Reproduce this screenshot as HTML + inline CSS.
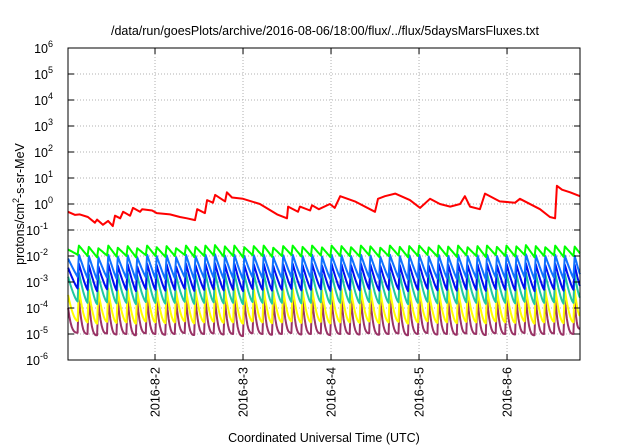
<!DOCTYPE html>
<html><head><meta charset="utf-8">
<style>
html,body{margin:0;padding:0;background:#fff;}
svg{display:block;font-family:"Liberation Sans",sans-serif;}
</style></head>
<body>
<svg id="chart" width="640" height="448" viewBox="0 0 640 448" xmlns="http://www.w3.org/2000/svg">
<text x="325" y="35" font-size="12.5" text-anchor="middle" fill="#000">/data/run/goesPlots/archive/2016-08-06/18:00/flux/../flux/5daysMarsFluxes.txt</text>
<text x="324" y="442" font-size="12.5" text-anchor="middle" fill="#000">Coordinated Universal Time (UTC)</text>
<text transform="translate(24,204) rotate(-90)" font-size="12.5" text-anchor="middle" fill="#000">protons/cm<tspan font-size="9" dy="-5">2</tspan><tspan dy="5">-s-sr-MeV</tspan></text>
<g id="grid"></g>
<g id="series"></g>
<g id="axes"></g>
</svg>
<script>
// ---- data ----
const dayLabels = ["2016-8-2","2016-8-3","2016-8-4","2016-8-5","2016-8-6"];
const dayHours = [24,48,72,96,120];
const yExponents = [-6,-5,-4,-3,-2,-1,0,1,2,3,4,5,6];
const redTimes = [0.27,2.2,3.5,5.7,7.6,8.2,9.8,11.2,12.5,13.1,14.5,15.3,17.2,18.0,19.9,20.5,23.2,24.5,28.1,30.8,32.7,34.9,35.5,37.6,38.2,39.8,40.4,43.1,43.6,45.0,48,52.6,57.3,60,60.3,63,63.5,66.3,66.8,68.7,71.7,73,74.5,78.5,84,84.8,86.7,89.5,93.5,96.3,99,101.7,104.5,107.2,108.5,109.9,112.6,114,118,122.2,123.5,129,131.7,133.1,133.6,135,137.2,139.9];
const redLog = [-0.3,-0.42,-0.4,-0.5,-0.72,-0.6,-0.8,-0.65,-0.85,-0.45,-0.55,-0.3,-0.45,-0.15,-0.3,-0.2,-0.25,-0.35,-0.4,-0.5,-0.55,-0.62,-0.2,-0.35,0.15,0.05,0.35,0.1,0.45,0.25,0.2,0.0,-0.4,-0.55,-0.1,-0.3,-0.1,-0.25,-0.05,-0.2,0.0,-0.15,0.3,0.1,-0.3,0.2,0.3,0.4,0.15,-0.15,0.2,0.0,-0.1,0.0,0.3,-0.1,-0.2,0.4,0.1,0.05,0.2,-0.2,-0.5,-0.55,0.7,0.55,0.45,0.3];
const toothTimes = [0.3,2.9,5.6,8.2,10.9,13.5,16.2,18.8,21.5,24.1,26.8,29.4,32.1,34.7,37.4,40.0,42.7,45.3,48.0,50.6,53.3,55.9,58.6,61.2,63.9,66.5,69.2,71.8,74.5,77.1,79.8,82.4,85.1,87.7,90.4,93.0,95.7,98.3,101.0,103.6,106.3,108.9,111.6,114.2,116.9,119.5,122.2,124.8,127.5,130.1,132.8,135.4,138.1];
const greenPeak = [-1.75,-1.6,-1.65,-1.7,-1.6,-1.68,-1.62,-1.7,-1.6,-1.66,-1.62,-1.7,-1.6,-1.65,-1.6,-1.58,-1.63,-1.6,-1.66,-1.62,-1.6,-1.68,-1.62,-1.6,-1.65,-1.6,-1.67,-1.6,-1.62,-1.66,-1.6,-1.63,-1.68,-1.6,-1.65,-1.62,-1.6,-1.67,-1.6,-1.64,-1.6,-1.66,-1.62,-1.6,-1.65,-1.6,-1.63,-1.58,-1.62,-1.66,-1.6,-1.63,-1.64];
const greenTrough = [-1.95,-2.0,-2.05,-1.98,-2.02,-2.0,-2.05,-1.97,-2.0,-2.03,-2.0,-1.96,-2.04,-2.0,-1.98,-2.02,-2.0,-2.05,-1.97,-2.0,-2.03,-2.0,-1.96,-2.02,-2.0,-1.98,-2.04,-2.0,-2.0,-2.02,-1.97,-2.03,-2.0,-1.98,-2.05,-2.0,-1.96,-2.02,-2.0,-2.03,-1.98,-2.0,-2.04,-1.97,-2.0,-2.02,-1.96,-2.05,-2.0,-1.98,-2.03,-2.0,-1.9];
const lblueP = [-2.1,-1.95,-2.0,-2.05,-1.95,-2.02,-1.97,-2.05,-1.95,-2.0,-1.97,-2.05,-1.95,-2.0,-1.95,-1.93,-1.98,-1.95,-2.0,-1.97,-1.95,-2.03,-1.97,-1.95,-2.0,-1.95,-2.02,-1.95,-1.97,-2.0,-1.95,-1.98,-2.03,-1.95,-2.0,-1.97,-1.95,-2.02,-1.95,-1.99,-1.95,-2.0,-1.97,-1.95,-2.0,-1.95,-1.98,-1.93,-1.97,-2.0,-1.95,-1.98,-1.99];
const lblueT = [-2.8,-2.85,-2.9,-2.83,-2.87,-2.85,-2.9,-2.82,-2.85,-2.88,-2.85,-2.81,-2.89,-2.85,-2.83,-2.87,-2.85,-2.9,-2.82,-2.85,-2.88,-2.85,-2.81,-2.87,-2.85,-2.83,-2.89,-2.85,-2.85,-2.87,-2.82,-2.88,-2.85,-2.83,-2.9,-2.85,-2.81,-2.87,-2.85,-2.88,-2.83,-2.85,-2.89,-2.82,-2.85,-2.87,-2.81,-2.9,-2.85,-2.83,-2.88,-2.85,-2.7];
const dblueP = [-2.45,-2.3,-2.35,-2.4,-2.3,-2.37,-2.32,-2.4,-2.3,-2.35,-2.32,-2.4,-2.3,-2.35,-2.3,-2.28,-2.33,-2.3,-2.35,-2.32,-2.3,-2.38,-2.32,-2.3,-2.35,-2.3,-2.37,-2.3,-2.32,-2.35,-2.3,-2.33,-2.38,-2.3,-2.35,-2.32,-2.3,-2.37,-2.3,-2.34,-2.3,-2.35,-2.32,-2.3,-2.35,-2.3,-2.33,-2.28,-2.32,-2.35,-2.3,-2.33,-2.34];
const dblueT = [-3.25,-3.3,-3.35,-3.28,-3.32,-3.3,-3.35,-3.27,-3.3,-3.33,-3.3,-3.26,-3.34,-3.3,-3.28,-3.32,-3.3,-3.35,-3.27,-3.3,-3.33,-3.3,-3.26,-3.32,-3.3,-3.28,-3.34,-3.3,-3.3,-3.32,-3.27,-3.33,-3.3,-3.28,-3.35,-3.3,-3.26,-3.32,-3.3,-3.33,-3.28,-3.3,-3.34,-3.27,-3.3,-3.32,-3.26,-3.35,-3.3,-3.28,-3.33,-3.3,-3.15];
const tealP = [-2.8,-2.65,-2.7,-2.75,-2.65,-2.72,-2.67,-2.75,-2.65,-2.7,-2.67,-2.75,-2.65,-2.7,-2.65,-2.63,-2.68,-2.65,-2.7,-2.67,-2.65,-2.73,-2.67,-2.65,-2.7,-2.65,-2.72,-2.65,-2.67,-2.7,-2.65,-2.68,-2.73,-2.65,-2.7,-2.67,-2.65,-2.72,-2.65,-2.69,-2.65,-2.7,-2.67,-2.65,-2.7,-2.65,-2.68,-2.63,-2.67,-2.7,-2.65,-2.68,-2.69];
const tealT = [-3.75,-3.8,-3.85,-3.78,-3.82,-3.8,-3.85,-3.77,-3.8,-3.83,-3.8,-3.76,-3.84,-3.8,-3.78,-3.82,-3.8,-3.85,-3.77,-3.8,-3.83,-3.8,-3.76,-3.82,-3.8,-3.78,-3.84,-3.8,-3.8,-3.82,-3.77,-3.83,-3.8,-3.78,-3.85,-3.8,-3.76,-3.82,-3.8,-3.83,-3.78,-3.8,-3.84,-3.77,-3.8,-3.82,-3.76,-3.85,-3.8,-3.78,-3.83,-3.8,-3.6];
const yellowP = [-3.5,-3.25,-3.3,-3.35,-3.25,-3.32,-3.27,-3.35,-3.25,-3.3,-3.27,-3.35,-3.25,-3.3,-3.25,-3.23,-3.28,-3.25,-3.3,-3.27,-3.25,-3.33,-3.27,-3.25,-3.3,-3.25,-3.32,-3.25,-3.27,-3.3,-3.25,-3.28,-3.33,-3.25,-3.3,-3.27,-3.25,-3.32,-3.25,-3.29,-3.25,-3.3,-3.27,-3.25,-3.3,-3.25,-3.28,-3.23,-3.27,-3.3,-3.25,-3.28,-3.29];
const yellowT = [-4.5,-4.55,-4.6,-4.53,-4.57,-4.55,-4.6,-4.52,-4.55,-4.58,-4.55,-4.51,-4.59,-4.55,-4.53,-4.57,-4.55,-4.6,-4.52,-4.55,-4.58,-4.55,-4.51,-4.57,-4.55,-4.53,-4.59,-4.55,-4.55,-4.57,-4.52,-4.58,-4.55,-4.53,-4.6,-4.55,-4.51,-4.57,-4.55,-4.58,-4.53,-4.55,-4.59,-4.52,-4.55,-4.57,-4.51,-4.6,-4.55,-4.53,-4.58,-4.55,-4.3];
const maroonP = [-4.0,-3.6,-3.65,-3.7,-3.6,-3.67,-3.62,-3.7,-3.6,-3.65,-3.62,-3.7,-3.6,-3.65,-3.6,-3.58,-3.63,-3.6,-3.65,-3.62,-3.6,-3.68,-3.62,-3.6,-3.65,-3.6,-3.67,-3.6,-3.62,-3.65,-3.6,-3.63,-3.68,-3.6,-3.65,-3.62,-3.6,-3.67,-3.6,-3.64,-3.6,-3.65,-3.62,-3.6,-3.65,-3.6,-3.63,-3.58,-3.62,-3.65,-3.6,-3.63,-3.64];
const maroonT = [-4.95,-5.0,-5.05,-4.98,-5.02,-5.0,-5.05,-4.97,-5.0,-5.03,-5.0,-4.96,-5.04,-5.0,-4.98,-5.02,-5.0,-5.08,-4.97,-5.0,-5.03,-5.0,-4.96,-5.02,-5.0,-4.98,-5.04,-5.0,-5.0,-5.02,-4.97,-5.03,-5.0,-4.98,-5.05,-5.0,-4.96,-5.02,-5.0,-5.03,-4.98,-5.0,-5.04,-4.97,-5.0,-5.02,-4.96,-5.05,-5.0,-4.98,-5.03,-5.0,-4.8];

// ---- axes ----
const X0=68,X1=580,Y0=48,Y1=360;
const tMin=0.27,tMax=139.9;
const x = t => X0 + (t-tMin)/(tMax-tMin)*(X1-X0);
const y = l => Y1 - (l+6)/12*(Y1-Y0);
const NS="http://www.w3.org/2000/svg";
function mk(tag, attrs, parent){const e=document.createElementNS(NS,tag);for(const k in attrs)e.setAttribute(k,attrs[k]);parent.appendChild(e);return e;}
const grid=document.getElementById('grid'), axes=document.getElementById('axes'), ser=document.getElementById('series');

yExponents.forEach(p=>{
  const yy=y(p);
  if(p>-6&&p<6){
    const g=mk('line',{x1:X0,x2:X1,y1:yy,y2:yy,stroke:'#b0b0b0','stroke-width':1,'stroke-dasharray':'1,2'},grid);
    
    
  }
  const t1=mk('line',{x1:X0,x2:X0+6,y1:yy,y2:yy,stroke:'#000'},axes);
  
  
  const t2=mk('line',{x1:X1-6,x2:X1,y1:yy,y2:yy,stroke:'#000'},axes);
  
  
  const tx=mk('text',{x:58,y:yy+5,'font-size':12.5,'text-anchor':'end',fill:'#000'},axes);
  
  
  tx.textContent='10';
  const sp=mk('tspan',{dy:-6,'font-size':9},tx);
  sp.textContent=String(p);
  // shift so superscript ends at label column
  tx.setAttribute('x',58 - (String(p).length*5));
  tx.setAttribute('text-anchor','end');
});
dayHours.forEach((h,i)=>{
  const xx=x(h);
  const g=mk('line',{x1:xx,x2:xx,y1:Y0,y2:Y1,stroke:'#b0b0b0','stroke-width':1,'stroke-dasharray':'1,2'},grid);
  
  
  const t1=mk('line',{x1:xx,x2:xx,y1:Y1-6,y2:Y1,stroke:'#000'},axes);
  
  
  const t2=mk('line',{x1:xx,x2:xx,y1:Y0,y2:Y0+6,stroke:'#000'},axes);
  
  
  const tx=mk('text',{transform:`translate(${xx+4.5},367) rotate(-90)`,'font-size':12.5,'text-anchor':'end',fill:'#000'},axes);
  
  
  tx.textContent=dayLabels[i];
});
const frame=mk('rect',{x:X0,y:Y0,width:X1-X0,height:Y1-Y0,fill:'none',stroke:'#000','stroke-width':1},axes);



// ---- series ----
const sawSeries=[
  {name:'maroon-series',color:'#993366',p:maroonP,t:maroonT,shape:3},
  {name:'yellow-series',color:'#ffff00',p:yellowP,t:yellowT,shape:1.8},
  {name:'teal-series',color:'#20c8a0',p:tealP,t:tealT,shape:1.4},
  {name:'dark-blue-series',color:'#0010f0',p:dblueP,t:dblueT,shape:1.2},
  {name:'light-blue-series',color:'#1070ff',p:lblueP,t:lblueT,shape:1.1},
  {name:'green-series',color:'#00ff00',p:greenPeak,t:greenTrough,shape:1}
];
sawSeries.forEach(s=>{
  let d='';
  for(let i=0;i<toothTimes.length;i++){
    const ts=toothTimes[i]+ (i===0?0:0.35);
    const te=i+1<toothTimes.length?toothTimes[i+1]:tMax;
    const N=8;
    for(let k=0;k<=N;k++){
      const f=k/N;
      const g=1-Math.pow(1-f,s.shape);
      const tt=ts+(te-ts)*f;
      const v=s.p[i]+(s.t[i]-s.p[i])*g;
      d+=(d?'L':'M')+x(tt).toFixed(1)+','+y(v).toFixed(1);
    }
  }
  const path=mk('path',{d:d,fill:'none',stroke:s.color,'stroke-width':2,'stroke-linejoin':'round'},ser);
  
  
});
let rd='';
redTimes.forEach((t,i)=>{rd+=(i?'L':'M')+x(t).toFixed(1)+','+y(redLog[i]).toFixed(1);});
const rp=mk('path',{d:rd,fill:'none',stroke:'#ff0000','stroke-width':2,'stroke-linejoin':'round'},ser);


</script>
</body></html>
